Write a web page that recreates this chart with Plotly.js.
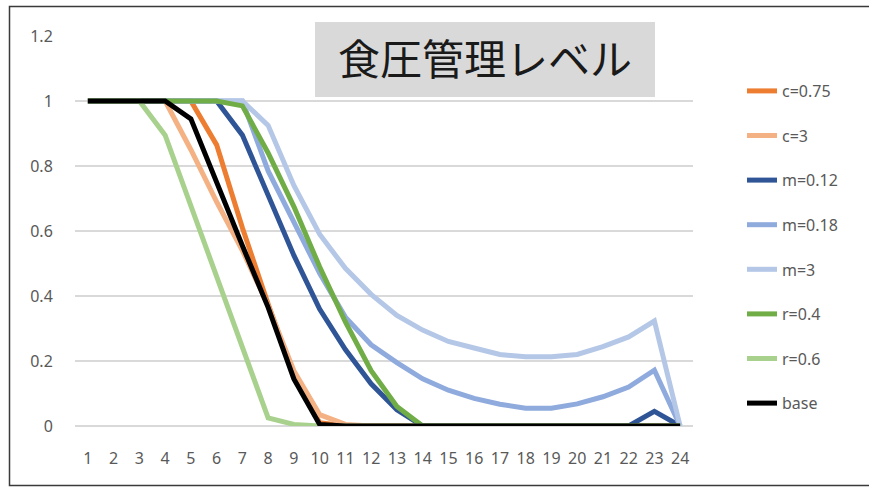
<!DOCTYPE html>
<html>
<head>
<meta charset="utf-8">
<script src="https://cdn.plot.ly/plotly-3.0.1.min.js"></script>
<style>html,body{margin:0;padding:0;background:#fff;}#chart{width:869px;height:488px;}</style>
</head>
<body>
<div id="chart"></div>
<script>
const categories = ['1','2','3','4','5','6','7','8','9','10','11','12','13','14','15','16','17','18','19','20','21','22','23','24'];
const seriesNames = ['c=0.75','c=3','m=0.12','m=0.18','m=3','r=0.4','r=0.6','base'];
const c075 = [1,1,1,1,1,0.865,0.61,0.375,0.155,0.01,0,0,0,0,0,0,0,0,0,0,0,0,0,0];
const c3   = [1,1,1,1,0.85,0.69,0.54,0.37,0.17,0.035,0.005,0,0,0,0,0,0,0,0,0,0,0,0,0];
const m012 = [1,1,1,1,1,1,0.895,0.71,0.525,0.36,0.235,0.13,0.05,0,0,0,0,0,0,0,0,0,0.045,0];
const m018 = [1,1,1,1,1,1,1,0.785,0.625,0.47,0.335,0.25,0.195,0.145,0.11,0.085,0.067,0.055,0.055,0.068,0.09,0.12,0.172,0];
const m3   = [1,1,1,1,1,1,1,0.925,0.74,0.59,0.485,0.405,0.34,0.295,0.26,0.24,0.22,0.213,0.213,0.22,0.244,0.274,0.323,0];
const r04  = [1,1,1,1,1,1,0.985,0.84,0.675,0.49,0.32,0.17,0.06,0,0,0,0,0,0,0,0,0,0,0];
const r06  = [1,1,1,0.895,0.675,0.455,0.235,0.025,0.005,0,0,0,0,0,0,0,0,0,0,0,0,0,0,0];
const base = [1,1,1,1,0.945,0.745,0.555,0.365,0.145,0.005,0,0,0,0,0,0,0,0,0,0,0,0,0,0];
const yTicks = [0,0.2,0.4,0.6,0.8,1,1.2];
const yTickText = ['0','0.2','0.4','0.6','0.8','1','1.2'];
const titleText = '食圧管理レベル';

const seriesValues = [c075,c3,m012,m018,m3,r04,r06,base];
const colors = ['#ED7D31','#F4B183','#2F5597','#8FAADC','#B4C7E7','#70AD47','#A9D18E','#000000'];

const traces = seriesValues.map((vals,i)=>({
  type:'scatter', mode:'lines', x:categories, y:vals, name:seriesNames[i],
  legendgroup:'g'+i,
  line:{color:colors[i], width:5, shape:'linear'},
  hoverinfo:'skip'
}));

const L=75, R=693, T=36, B=426, W=869, H=488;
const px = v => (v-L)/(R-L);
const py = v => (B-v)/(B-T);

const layout = {
  width:W, height:H,
  margin:{l:L, r:W-R, t:T, b:H-B, pad:0},
  paper_bgcolor:'#ffffff', plot_bgcolor:'#ffffff',
  font:{family:'"Noto Sans", "Noto Sans CJK JP", sans-serif', size:16, color:'#595959'},
  title:{text:titleText, x:px(485), xanchor:'center', xref:'paper', y:1-60/H, yanchor:'middle', yref:'container',
         font:{family:'"Noto Sans CJK JP", sans-serif', size:42, color:'#1a1a1a'}},
  xaxis:{type:'category', range:[-0.5,23.5], showgrid:false, zeroline:false, showline:false,
         ticks:'outside', ticklen:18, tickcolor:'rgba(0,0,0,0)', tickfont:{size:16, color:'#595959'}, fixedrange:true},
  yaxis:{range:[0,1.2], tickvals:yTicks, ticktext:yTickText, showgrid:true, gridcolor:'#d9d9d9', gridwidth:1.5,
         zeroline:true, zerolinecolor:'#d9d9d9', zerolinewidth:1.5, showline:false,
         ticks:'outside', ticklen:18, tickcolor:'rgba(0,0,0,0)', tickfont:{size:16, color:'#595959'}, fixedrange:true},
  showlegend:true,
  legend:{x:px(742), xanchor:'left', y:py(74), yanchor:'top', tracegroupgap:20.8,
          font:{size:16, color:'#595959'}, bgcolor:'rgba(0,0,0,0)'},
  shapes:[
    {type:'rect', xref:'paper', yref:'paper', x0:px(315), x1:px(655), y0:py(97), y1:py(22),
     fillcolor:'#d9d9d9', line:{width:0}, layer:'above'},
    {type:'rect', xref:'paper', yref:'paper', x0:px(9.5), x1:px(880), y0:py(485.5), y1:py(6.5),
     fillcolor:'rgba(0,0,0,0)', line:{color:'#3a3a3a', width:1.5}, layer:'above'}
  ]
};

Plotly.newPlot('chart', traces, layout, {staticPlot:true, displayModeBar:false});
</script>
</body>
</html>
